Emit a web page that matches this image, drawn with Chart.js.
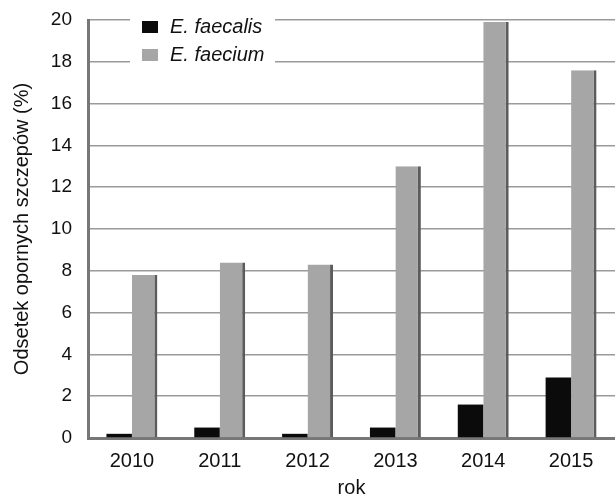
<!DOCTYPE html>
<html>
<head>
<meta charset="utf-8">
<script src="https://cdn.jsdelivr.net/npm/chart.js@4/dist/chart.umd.min.js"></script>
<style>
  html, body { margin: 0; padding: 0; background: #fff; overflow: hidden; }
  #wrap { width: 615px; height: 495px; }
</style>
</head>
<body>
<div id="wrap"><canvas id="c" width="615" height="495"></canvas></div>
<script>
// --- data ---
const years = ['2010', '2011', '2012', '2013', '2014', '2015'];
const faecalis = [0.2, 0.5, 0.2, 0.5, 1.6, 2.9];
const faecium = [7.8, 8.4, 8.3, 13.0, 19.9, 17.6];
const seriesNames = ['E. faecalis', 'E. faecium'];
const yTicks = [0, 2, 4, 6, 8, 10, 12, 14, 16, 18, 20];

const FONT = 'Liberation Sans, Arial, sans-serif';

// legend drawn inside the plot, over a white box (like the original)
const innerLegend = {
  id: 'innerLegend',
  afterDatasetsDraw(chart) {
    const ctx = chart.ctx;
    const x0 = 142, y0 = 19, rowH = 28;
    ctx.save();
    ctx.fillStyle = '#fff';
    ctx.fillRect(x0 - 12, y0 - 4, 145, 54);
    chart.data.datasets.forEach((ds, i) => {
      const y = y0 + i * rowH;
      ctx.fillStyle = ds.backgroundColor;
      ctx.fillRect(x0, y + 2, 16, 12);
      ctx.fillStyle = '#111';
      ctx.font = 'italic 20px ' + FONT;
      ctx.textBaseline = 'middle';
      ctx.fillText(ds.label, x0 + 28, y + 8);
    });
    ctx.restore();
  }
};

new Chart(document.getElementById('c'), {
  type: 'bar',
  data: {
    labels: years,
    datasets: [
      { label: seriesNames[0], data: faecalis, backgroundColor: '#0b0b0b' },
      { label: seriesNames[1], data: faecium, backgroundColor: '#a6a6a6',
        borderColor: '#5c5c5c', borderWidth: { right: 3, left: 0, top: 0, bottom: 0 }, borderSkipped: false }
    ]
  },
  options: {
    responsive: false,
    animation: false,
    devicePixelRatio: 1,
    // the original plot runs slightly past the right edge of the picture
    layout: { padding: { top: 0, right: -7, bottom: 0, left: 0 } },
    datasets: { bar: { barPercentage: 1, categoryPercentage: 0.58 } },
    plugins: {
      legend: { display: false },
      tooltip: { enabled: false }
    },
    scales: {
      x: {
        grid: { display: false, drawTicks: false },
        border: { color: '#777', width: 3 },
        ticks: { color: '#111', font: { family: FONT, size: 20 }, padding: 11 },
        title: { display: true, text: 'rok', color: '#111', font: { family: FONT, size: 20 }, padding: { top: 4, bottom: -5 } },
        afterFit(scale) { scale.height = 57; scale.paddingRight = 0; }
      },
      y: {
        min: 0, max: 20,
        afterBuildTicks(scale) { scale.ticks = yTicks.map(v => ({ value: v })); },
        grid: { color: '#9a9a9a', lineWidth: 1.5, drawTicks: false },
        border: { color: '#777', width: 3 },
        ticks: { color: '#111', font: { family: FONT, size: 19 }, padding: 16 },
        title: { display: true, text: 'Odsetek opornych szczepów (%)', color: '#111', font: { family: FONT, size: 20 }, padding: { top: 10, bottom: 0 } },
        afterFit(scale) { scale.width = 88; scale.paddingTop = 20; scale.paddingBottom = 0; }
      }
    }
  },
  plugins: [innerLegend]
});
</script>
</body>
</html>
